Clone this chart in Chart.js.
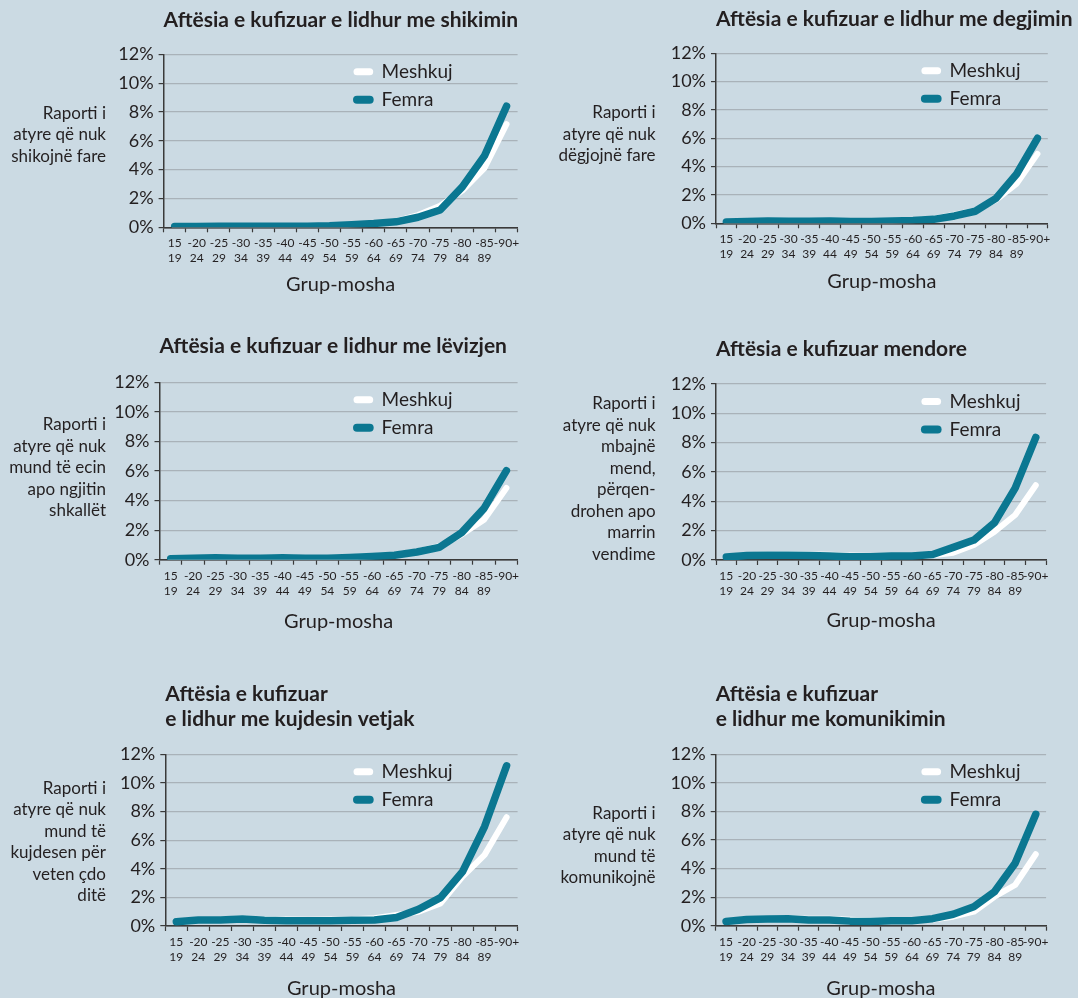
<!DOCTYPE html>
<html><head><meta charset="utf-8">
<script src="https://cdn.jsdelivr.net/npm/chart.js@4"></script>
<style>
html,body{margin:0;padding:0;background:#cbdae3;width:1078px;height:998px;overflow:hidden;}
canvas{position:absolute;}
</style></head><body>
<script>
// ---- data ----
const AGE_TOP = ['15','-20','-25','-30','-35','-40','-45','-50','-55','-60','-65','-70','-75','-80','-85','-90+'];
const AGE_BOTTOM = ['19','24','29','34','39','44','49','54','59','64','69','74','79','84','89',''];
const Y_MIN = 0, Y_MAX = 12, Y_STEP = 2;
const SERIES_NAMES = ['Meshkuj', 'Femra'];
const X_TITLE = 'Grup-mosha';

const shikimiMeshkuj   = [0.05,0.06,0.08,0.07,0.07,0.08,0.09,0.11,0.17,0.25,0.42,0.85,1.5,2.55,4.1,7.15];
const shikimiFemra     = [0.05,0.06,0.08,0.07,0.07,0.08,0.08,0.10,0.18,0.26,0.38,0.70,1.2,2.8,4.95,8.4];
const degjimiMeshkuj   = [0.10,0.12,0.16,0.14,0.14,0.17,0.14,0.14,0.17,0.22,0.33,0.60,0.9,1.65,2.8,4.9];
const degjimiFemra     = [0.10,0.12,0.16,0.14,0.14,0.16,0.13,0.13,0.16,0.20,0.28,0.52,0.85,1.76,3.48,6.0];
const levizjaMeshkuj   = [0.07,0.10,0.14,0.11,0.12,0.17,0.10,0.11,0.16,0.23,0.34,0.56,0.92,1.7,2.7,4.85];
const levizjaFemra     = [0.07,0.10,0.14,0.10,0.10,0.14,0.09,0.10,0.15,0.22,0.30,0.52,0.83,1.83,3.47,6.02];
const mendoreMeshkuj   = [0.22,0.33,0.37,0.40,0.38,0.35,0.30,0.28,0.28,0.28,0.32,0.50,1.02,1.93,3.07,5.1];
const mendoreFemra     = [0.20,0.30,0.32,0.32,0.30,0.27,0.23,0.23,0.27,0.28,0.38,0.86,1.36,2.55,4.9,8.36];
const kujdesiMeshkuj   = [0.30,0.44,0.45,0.52,0.47,0.45,0.44,0.45,0.48,0.55,0.77,1.0,1.58,3.45,4.97,7.6];
const kujdesiFemra     = [0.30,0.42,0.42,0.49,0.40,0.37,0.37,0.37,0.40,0.42,0.60,1.17,1.98,3.8,6.95,11.2];
const komunikimiMeshkuj= [0.30,0.45,0.48,0.52,0.48,0.48,0.42,0.36,0.38,0.38,0.44,0.63,0.98,2.03,2.85,5.0];
const komunikimiFemra  = [0.30,0.44,0.47,0.49,0.40,0.40,0.32,0.30,0.35,0.35,0.49,0.80,1.33,2.38,4.37,7.8];

// ---- style ----
const TEXT = '#231f20';
const AXIS = '#3a3a3a';
const GRID = '#a9b2b9';
const WHITE = '#ffffff';
const TEAL = '#0b7791';
const FONT = 'Lato';

// ---- panels (layout in page px) ----
const panels = [
  { cx:0, cy:0, cw:540, ch:310, L:163.6, T:54.3, R:517.6, B:227.3,
    title:['Aftësia e kufizuar e lidhur me shikimin'], titleY:20.5,
    yTitle:['Raporti i','atyre që nuk','shikojnë fare'], yTitleX:106, yTitleY:113.3,
    xTitleY:285, legendX:189.4, data:[shikimiMeshkuj, shikimiFemra] },
  { cx:540, cy:0, cw:538, ch:310, L:716, T:53.3, R:1047.8, B:223.3,
    title:['Aftësia e kufizuar e lidhur me degjimin'], titleY:19,
    yTitle:['Raporti i','atyre që nuk','dëgjojnë fare'], yTitleX:655.6, yTitleY:113,
    xTitleY:281.7, legendX:204.9, data:[degjimiMeshkuj, degjimiFemra] },
  { cx:0, cy:325, cw:540, ch:325, L:159.5, T:382.3, R:517.6, B:559.7,
    title:['Aftësia e kufizuar e lidhur me lëvizjen'], titleY:346.7,
    yTitle:['Raporti i','atyre që nuk','mund të ecin','apo ngjitin','shkallët'], yTitleX:106, yTitleY:425,
    xTitleY:621.7, legendX:193.5, data:[levizjaMeshkuj, levizjaFemra] },
  { cx:540, cy:325, cw:538, ch:325, L:716, T:384, R:1046.1, B:560,
    title:['Aftësia e kufizuar mendore'], titleY:349,
    yTitle:['Raporti i','atyre që nuk','mbajnë','mend,','përqen-','drohen apo','marrin','vendime'], yTitleX:655.6, yTitleY:404,
    xTitleY:621, legendX:204.9, data:[mendoreMeshkuj, mendoreFemra] },
  { cx:0, cy:660, cw:540, ch:338, L:165.3, T:754.3, R:517.6, B:926,
    title:['Aftësia e kufizuar','e lidhur me kujdesin vetjak'], titleY:694,
    yTitle:['Raporti i','atyre që nuk','mund të','kujdesen për','veten çdo','ditë'], yTitleX:106, yTitleY:788.3,
    xTitleY:988.3, legendX:187.7, data:[kujdesiMeshkuj, kujdesiFemra] },
  { cx:540, cy:660, cw:538, ch:338, L:715.7, T:754.3, R:1046.1, B:925.7,
    title:['Aftësia e kufizuar','e lidhur me komunikimin'], titleY:694,
    yTitle:['Raporti i','atyre që nuk','mund të','komunikojnë'], yTitleX:655.6, yTitleY:813.3,
    xTitleY:988.3, legendX:205.2, data:[komunikimiMeshkuj, komunikimiFemra] }
];

const labels = AGE_TOP.map((t, i) => [t, AGE_BOTTOM[i]]);

function makeDecor(p) {
  return {
    id: 'decor',
    afterDraw(chart) {
      const ctx = chart.ctx, ca = chart.chartArea;
      ctx.save();
      ctx.fillStyle = TEXT;
      ctx.textBaseline = 'middle';
      ctx.textAlign = 'left';
      ctx.font = 'bold 21px ' + FONT;
      p.title.forEach((t, i) => ctx.fillText(t, ca.left, p.titleY - p.cy + i * 25.3));
      ctx.font = '17px ' + FONT;
      ctx.textAlign = 'right';
      p.yTitle.forEach((t, i) => ctx.fillText(t, p.yTitleX - p.cx, p.yTitleY - p.cy + i * 21.5));
      const rows = [17.5, 45.5];
      chart.data.datasets.forEach((ds, i) => {
        const y = ca.top + rows[i];
        const x0 = ca.left + p.legendX;
        ctx.beginPath();
        ctx.lineCap = 'round';
        ctx.strokeStyle = ds.borderColor;
        ctx.lineWidth = ds.legendWidth;
        ctx.moveTo(x0 + 4, y);
        ctx.lineTo(x0 + 16.7, y);
        ctx.stroke();
        ctx.fillStyle = TEXT;
        ctx.font = '19px ' + FONT;
        ctx.textAlign = 'left';
        ctx.fillText(ds.label, x0 + 28.6, y);
      });
      ctx.restore();
    }
  };
}

panels.forEach(p => {
  const c = document.createElement('canvas');
  c.width = p.cw; c.height = p.ch;
  c.style.left = p.cx + 'px'; c.style.top = p.cy + 'px';
  c.style.width = p.cw + 'px'; c.style.height = p.ch + 'px';
  document.body.appendChild(c);
  const xH = p.cy + p.ch - p.B;
  const xTitlePad = p.cy + p.ch - 12 - p.xTitleY;
  new Chart(c, {
    type: 'line',
    data: {
      labels: labels,
      datasets: [
        { label: SERIES_NAMES[0], data: p.data[0], borderColor: WHITE, backgroundColor: WHITE,
          borderWidth: 6, legendWidth: 7, order: 2 },
        { label: SERIES_NAMES[1], data: p.data[1], borderColor: TEAL, backgroundColor: TEAL,
          borderWidth: 7.5, legendWidth: 8, order: 1 }
      ]
    },
    options: {
      responsive: false,
      animation: false,
      devicePixelRatio: 1,
      layout: { padding: { left: 0, top: p.T - p.cy, right: p.cx + p.cw - p.R, bottom: 0 } },
      elements: {
        point: { radius: 0, hoverRadius: 0 },
        line: { tension: 0, borderCapStyle: 'round', borderJoinStyle: 'round', fill: false }
      },
      plugins: { legend: { display: false }, tooltip: { enabled: false }, title: { display: false } },
      scales: {
        x: {
          type: 'category',
          offset: true,
          grid: { display: true, offset: true, drawOnChartArea: false, drawTicks: true,
                  tickLength: 5, tickColor: AXIS, tickWidth: 1.2, color: AXIS },
          border: { display: true, color: AXIS, width: 1.5 },
          ticks: { color: TEXT, font: { family: FONT, size: 12, lineHeight: 1.22 }, padding: 4,
                   maxRotation: 0, minRotation: 0, autoSkip: false },
          title: { display: true, text: X_TITLE, color: TEXT,
                   font: { family: FONT, size: 20, lineHeight: 1.2 },
                   padding: { top: 0, bottom: xTitlePad } },
          afterFit: s => { s.height = xH; }
        },
        y: {
          min: Y_MIN, max: Y_MAX,
          grid: { display: true, drawOnChartArea: true, drawTicks: true, tickLength: 5,
                  tickColor: AXIS, tickWidth: 1.2,
                  color: ctx => (ctx.tick && ctx.tick.value === 0) ? AXIS : GRID, lineWidth: 1.2 },
          border: { display: true, color: AXIS, width: 1.5 },
          ticks: { stepSize: Y_STEP, color: TEXT, font: { family: FONT, size: 18 }, padding: 5,
                   callback: v => v + '%' },
          afterFit: s => { s.width = p.L - p.cx; }
        }
      }
    },
    plugins: [makeDecor(p)]
  });
});
</script></body></html>
